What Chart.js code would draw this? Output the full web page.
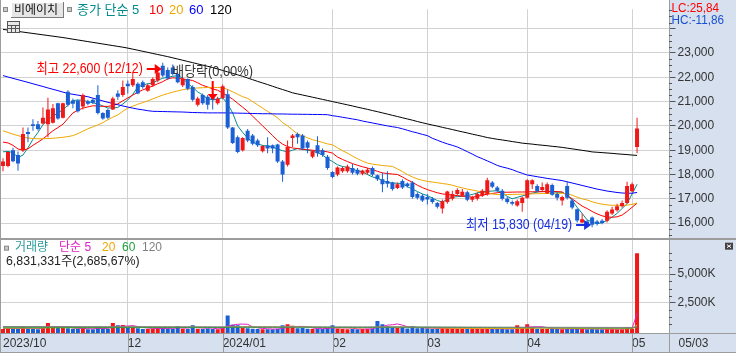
<!DOCTYPE html>
<html>
<head>
<meta charset="utf-8">
<script src="https://cdn.jsdelivr.net/npm/chart.js"></script>
<style>
html,body{margin:0;padding:0;background:#fff;overflow:hidden;}
#wrap{position:relative;width:736px;height:353px;}
canvas{display:block;}
</style>
</head>
<body>
<div id="wrap"><canvas id="c" width="736" height="353"></canvas></div>
<script>
// ---------------- data ----------------
const stockName = '비에이치';
const dates = [
'2023/10/27','2023/10/30','2023/10/31',
'2023/11/01','2023/11/02','2023/11/03','2023/11/06','2023/11/07','2023/11/08','2023/11/09','2023/11/10','2023/11/13','2023/11/14','2023/11/15','2023/11/16','2023/11/17','2023/11/20','2023/11/21','2023/11/22','2023/11/23','2023/11/24','2023/11/27','2023/11/28','2023/11/29','2023/11/30',
'2023/12/01','2023/12/04','2023/12/05','2023/12/06','2023/12/07','2023/12/08','2023/12/11','2023/12/12','2023/12/13','2023/12/14','2023/12/15','2023/12/18','2023/12/19','2023/12/20','2023/12/21','2023/12/22','2023/12/26','2023/12/27','2023/12/28',
'2024/01/02','2024/01/03','2024/01/04','2024/01/05','2024/01/08','2024/01/09','2024/01/10','2024/01/11','2024/01/12','2024/01/15','2024/01/16','2024/01/17','2024/01/18','2024/01/19','2024/01/22','2024/01/23','2024/01/24','2024/01/25','2024/01/26','2024/01/29','2024/01/30','2024/01/31',
'2024/02/01','2024/02/02','2024/02/05','2024/02/06','2024/02/07','2024/02/08','2024/02/13','2024/02/14','2024/02/15','2024/02/16','2024/02/19','2024/02/20','2024/02/21','2024/02/22','2024/02/23','2024/02/26','2024/02/27','2024/02/28','2024/02/29',
'2024/03/04','2024/03/05','2024/03/06','2024/03/07','2024/03/08','2024/03/11','2024/03/12','2024/03/13','2024/03/14','2024/03/15','2024/03/18','2024/03/19','2024/03/20','2024/03/21','2024/03/22','2024/03/25','2024/03/26','2024/03/27','2024/03/28','2024/03/29',
'2024/04/01','2024/04/02','2024/04/03','2024/04/04','2024/04/05','2024/04/08','2024/04/09','2024/04/11','2024/04/12','2024/04/15','2024/04/16','2024/04/17','2024/04/18','2024/04/19','2024/04/22','2024/04/23','2024/04/24','2024/04/25','2024/04/26','2024/04/29','2024/04/30',
'2024/05/02','2024/05/03'];

const openP = [
18350,18350,19000,18800,19000,19750,20070,20070,20100,20070,
20130,20930,20330,21400,21040,21040,20800,21000,21070,21270,
20530,20650,20670,21330,21270,21730,21670,21730,21800,21450,
21670,21870,22470,22300,22400,22130,21670,21930,21600,20870,
21270,21200,21150,20930,21150,21300,19930,19530,19000,19800,
19600,19400,18960,19200,19200,19230,18530,18400,19500,19670,
19600,19330,18730,19200,19000,18730,18100,18000,18130,18130,
18270,18200,18030,18070,18270,17970,17800,17730,17670,17440,
17730,17630,17670,17200,17130,17070,17000,16830,16600,16870,
17000,17200,17130,17270,16960,17000,17130,17200,17670,17470,
17330,17000,16870,16730,16830,17040,17600,17530,17360,17230,
17570,17200,16930,17530,16930,16570,16030,16070,16230,16070,
16100,16100,16400,16530,16690,16830,17310,19130];
const highP = [
18670,18950,19100,18950,19930,19930,20270,20200,20760,21160,
20900,20950,20950,21470,21130,21070,21330,21070,21130,21670,
20560,20700,21200,21470,21870,21870,22200,21800,21870,21730,
22000,22330,22600,22400,22530,22200,22000,21950,21670,21200,
21330,21270,21330,21200,21700,21500,19950,19600,19530,19870,
19670,19470,19200,19530,19230,19270,18600,19400,19670,19730,
19670,19400,19000,19570,19070,18800,18130,18330,18330,18400,
18430,18270,18200,18270,18330,18000,18070,18130,17700,17670,
17800,17670,17730,17270,17200,17200,17070,16870,16970,17330,
17330,17430,17400,17330,17130,17270,17400,17870,17730,17530,
17400,17070,16930,16970,17100,17800,17800,17600,17670,17670,
17630,17270,17130,17730,17000,16600,16400,16130,16270,16130,
16170,16530,16670,16800,16930,17700,17670,20330];
const lowP = [
18130,18300,18500,18150,18930,19330,19800,19800,20060,19530,
20100,20250,20300,20800,20730,20550,20670,20850,20900,20470,
20250,20270,20650,21070,21200,21330,21600,21300,21530,21400,
21600,21800,22000,21900,22070,21750,21600,21470,21000,20800,
20870,20670,20670,20870,21100,19870,19250,18870,18950,19330,
19200,19130,18900,18870,18870,18470,17700,18330,19130,19270,
19000,18870,18670,18730,18730,18200,17850,17930,18070,18070,
18000,17970,17970,18000,17930,17730,17270,17470,17330,17400,
17400,17470,17000,16970,16870,16770,16800,16600,16400,16800,
16930,17130,17070,16900,16870,16930,17070,17130,17430,17270,
16930,16800,16730,16670,16470,17000,17400,17270,17270,17200,
17130,16930,16730,16970,16570,16030,16000,15930,15830,15900,
15950,16030,16330,16470,16630,16800,17270,18870];
const closeP = [
18530,18930,18550,18450,19670,19670,20000,19870,20330,20670,
20730,20300,20930,20870,20910,20600,21270,20910,20950,20530,
20300,20330,21130,21200,21600,21630,21930,21330,21600,21670,
21930,22200,22070,21950,22130,21800,21930,21530,21070,21130,
20930,20870,21070,21130,21630,19930,19300,18930,19500,19400,
19270,19200,19170,19070,19070,18530,18000,19130,19600,19530,
19070,19100,18960,18870,18800,18270,17900,18290,18270,18330,
18070,18030,18160,18200,18000,17800,17600,17620,17400,17600,
17470,17530,17070,17040,16930,16970,16870,16670,16900,17300,
17200,17360,17290,16960,17070,17200,17330,17760,17500,17330,
17000,16870,16800,16900,17040,17760,17760,17310,17490,17600,
17170,17040,17070,17040,16640,16110,16160,16000,15930,15970,
16000,16470,16560,16690,16830,17530,17600,19890];

// moving averages
const ma5 = [
18933,18950,18900,18700,18800,19100,19450,19730,20050,20250,
20400,20530,20667,20850,21040,21067,21050,21000,20950,20900,
20820,20733,20740,20760,20900,21067,21300,21600,21680,21733,
21760,21880,21960,22000,22040,22067,21960,21750,21580,21400,
21267,21120,21067,21100,21160,20900,20533,20000,19733,19500,
19333,19250,19200,19160,19133,19050,18980,18933,19000,19067,
19030,19000,18960,18900,18800,18650,18533,18400,18330,18293,
18220,18150,18107,18000,17900,17850,17750,17667,17650,17640,
17627,17500,17400,17300,17200,17133,17030,16930,16867,16980,
17067,17090,17110,17133,17180,17240,17290,17307,17320,17333,
17250,17100,17000,17060,17120,17173,17230,17280,17307,17300,
17290,17270,17267,17150,16933,16650,16400,16133,16050,15973,
16020,16107,16250,16400,16600,16800,17200,17600];
const ma10 = [
19333,19300,19200,19050,19000,19060,19200,19330,19467,19630,
19800,19930,20067,20300,20533,20640,20733,20780,20827,20815,
20805,20800,20840,20907,21030,21150,21267,21380,21480,21560,
21640,21733,21820,21933,21980,21960,21933,21900,21867,21770,
21667,21600,21520,21467,21350,21230,21100,20930,20770,20600,
20400,20200,20000,19800,19600,19400,19250,19150,19090,19067,
19040,19020,19000,18980,18960,18933,18880,18720,18620,18530,
18450,18380,18320,18267,18200,18130,18067,18040,18020,18000,
17900,17780,17680,17560,17460,17380,17310,17250,17200,17180,
17150,17133,17110,17090,17067,17100,17150,17190,17220,17250,
17270,17270,17275,17280,17280,17285,17290,17290,17295,17300,
17300,17300,17280,17150,17000,16850,16700,16600,16480,16380,
16300,16250,16240,16260,16330,16480,16650,16820];
const ma20 = [
19800,19730,19660,19600,19540,19500,19480,19470,19470,19480,
19490,19510,19530,19560,19600,19680,19780,19880,19960,20040,
20133,20250,20360,20450,20600,20733,20810,20890,20960,21030,
21110,21190,21267,21330,21390,21440,21490,21520,21540,21560,
21570,21580,21580,21580,21570,21500,21400,21300,21200,21133,
21000,20870,20730,20600,20470,20330,20133,20000,19830,19667,
19590,19510,19430,19380,19320,19260,19220,19100,18980,18880,
18760,18650,18550,18470,18427,18400,18370,18350,18333,18230,
18120,18000,17900,17820,17760,17720,17690,17660,17630,17600,
17560,17500,17450,17400,17360,17320,17280,17240,17200,17173,
17173,17175,17180,17185,17190,17200,17205,17210,17215,17220,
17225,17227,17227,17200,17150,17067,17000,16950,16880,16820,
16780,16750,16733,16733,16733,16740,16770,16830];
const ma60 = [
22067,22010,21955,21900,21845,21790,21733,21675,21620,21560,
21505,21450,21390,21333,21300,21265,21235,21200,21140,21085,
21025,20970,20920,20870,20820,20773,20730,20690,20660,20625,
20600,20595,20590,20585,20580,20575,20570,20560,20550,20545,
20540,20535,20535,20535,20535,20535,20530,20525,20520,20515,
20510,20505,20500,20500,20495,20490,20490,20485,20480,20480,
20475,20475,20470,20470,20465,20460,20420,20390,20355,20320,
20285,20250,20200,20160,20120,20080,20040,20000,19965,19933,
19880,19820,19760,19710,19650,19600,19490,19410,19330,19260,
19200,19133,19040,18940,18840,18733,18650,18560,18470,18373,
18310,18260,18200,18120,18050,17980,17945,17910,17875,17840,
17810,17780,17750,17700,17650,17600,17550,17500,17450,17400,
17360,17320,17290,17260,17240,17230,17230,17260];
const ma120 = [
23970,23942,23914,23886,23858,23830,23802,23774,23746,23718,
23690,23662,23634,23600,23567,23534,23501,23468,23435,23402,
23369,23336,23303,23270,23237,23200,23156,23112,23068,23024,
22980,22936,22892,22848,22800,22750,22700,22650,22600,22550,
22500,22450,22400,22340,22280,22220,22160,22100,22040,21970,
21900,21830,21765,21700,21630,21560,21495,21430,21360,21315,
21270,21225,21180,21135,21090,21045,21000,20955,20910,20865,
20820,20770,20725,20680,20630,20585,20535,20485,20435,20385,
20335,20285,20235,20180,20130,20080,20035,19990,19940,19895,
19850,19800,19755,19710,19660,19615,19570,19520,19485,19450,
19420,19390,19355,19325,19290,19270,19250,19225,19205,19185,
19160,19140,19115,19085,19055,19025,18995,18965,18930,18915,
18900,18885,18870,18850,18835,18820,18800,18785];

// volume in thousands of shares
const volumeK = [
220,300,250,230,380,260,240,200,320,750,
360,300,340,280,220,250,300,200,210,420,
260,230,740,550,560,300,420,290,220,230,
260,330,300,260,240,470,250,230,550,240,
220,260,230,210,300,1400,600,550,300,290,
250,230,200,210,200,250,550,640,500,280,
300,250,220,240,220,300,550,260,220,210,
230,200,230,240,260,920,640,470,350,300,
400,260,470,280,300,290,250,270,300,320,
280,250,260,240,230,240,230,260,220,230,
240,210,200,550,300,640,380,250,240,230,
250,220,210,220,230,260,220,210,230,200,
210,230,220,200,210,400,245.231,6831.331];
const vma5 = [
260,270,270,280,276,290,290,270,280,390,
400,400,410,420,300,280,280,250,240,270,
270,270,370,440,470,480,520,430,360,300,
290,250,270,280,280,320,310,300,350,350,
300,300,300,240,250,480,560,630,650,630,
400,320,270,240,220,220,280,370,430,440,
450,400,310,260,250,270,310,320,310,310,
290,230,220,220,230,370,430,560,590,660,
560,420,390,360,340,320,300,280,280,290,
280,280,280,270,260,250,240,240,240,240,
240,230,230,290,300,380,410,420,420,340,
250,240,230,230,230,230,230,230,230,230,
220,220,220,210,210,250,260,1580];
const vma20 = [
300,300,305,305,310,310,310,315,320,330,
335,335,340,340,340,340,345,345,345,350,
350,350,360,370,375,380,385,385,385,385,
380,380,380,375,375,370,370,370,370,365,
360,360,355,350,345,400,410,420,420,420,
420,415,410,405,400,390,400,405,410,410,
400,390,380,370,360,350,345,340,335,330,
325,320,320,350,365,380,390,395,400,400,
395,385,370,360,345,330,320,310,300,295,
290,285,280,280,275,275,270,270,265,265,
260,260,260,260,280,285,300,300,300,295,
290,285,280,275,270,265,260,255,250,250,
245,245,240,240,240,250,250,570];
const vma60 = [
330,330,330,331,331,332,332,333,333,334,
334,335,335,336,336,337,337,338,338,339,
340,340,341,341,342,342,343,343,344,344,
345,345,345,346,346,346,347,347,347,348,
348,348,349,349,350,352,354,356,358,360,
361,362,363,364,365,366,367,368,369,370,
370,370,369,368,367,366,365,364,363,362,
361,360,360,362,364,366,368,370,372,374,
375,375,374,373,372,370,368,366,364,362,
360,358,356,354,352,350,348,346,344,342,
340,338,336,334,333,332,331,330,328,326,
324,322,320,318,316,314,312,310,308,306,
305,304,303,302,301,300,300,410];
const vma120 = [
440,440,439,439,438,438,437,437,436,436,
435,435,434,434,433,433,432,432,431,431,
430,430,429,429,428,428,427,427,426,426,
425,425,424,424,423,423,422,422,421,421,
420,420,419,419,418,418,418,418,417,417,
416,416,415,415,414,414,413,413,412,412,
411,411,410,410,409,409,408,408,407,407,
406,406,405,405,404,404,403,403,402,402,
401,401,400,399,398,397,396,395,394,393,
392,391,390,389,388,387,386,385,384,383,
382,381,380,379,378,377,376,375,374,373,
372,371,370,369,368,367,366,365,364,363,
362,361,360,359,358,357,356,411];

const priceMaLabels = ['종가 단순 5','10','20','60','120'];
const volMaLabels = ['단순 5','20','60','120'];
const priceTicks = [16000,17000,18000,19000,20000,21000,22000,23000,24000];
const volTicksK = [2500, 5000];
const lcText = 'LC:25,84', hcText = 'HC:-11,86';
const exDivDate = '2023/12/27', exDivText = '배당락(0,00%)';

// ---------------- styling ----------------
const UP = '#f01818', DN = '#1a5fd4';
const GRID = '#d2d2d2', PANEL = '#d6e0ee', BORDER = '#9c9c9c';
const FONT = "'Liberation Sans Narrow','Liberation Sans','Noto Sans CJK KR',sans-serif";
const PRICE_MA_COLORS = ['#008c8c','#ff0000','#f0a800','#0000ff','#000000'];
const VOL_MA_COLORS = ['#e020c0','#f0a800','#20a040','#808080'];
const PAD = 6;

const labels = dates.concat(Array(PAD).fill(''));
const candleColor = closeP.map((c, i) => c >= openP[i] ? UP : DN);
const tickText = labels.map((d, i) => {
  if (!d) return '';
  const [y, m] = d.split('/');
  if (i === 0) return y + '/' + m;
  const [py, pm] = dates[i - 1].split('/');
  if (m === pm) return '';
  if (i < 10) return '';
  return y !== py ? y + '/' + m : m;
});
const fmt = v => Math.round(v).toLocaleString('en-US');

function lineDs(data, color, axis, order) {
  return {type: 'line', data, borderColor: color, borderWidth: 1, pointRadius: 0,
          fill: false, tension: 0, yAxisID: axis, order};
}

const deco = {
  id: 'deco',
  beforeDraw(ch) {
    const c = ch.ctx, a = ch.chartArea;
    c.save();
    c.fillStyle = '#fff'; c.fillRect(0, 0, ch.width, ch.height);
    c.fillStyle = PANEL;
    c.fillRect(a.right, 0, ch.width - a.right, ch.height);
    c.fillRect(0, a.bottom, ch.width, ch.height - a.bottom);
    c.restore();
  },
  afterDraw(ch) {
    const c = ch.ctx, a = ch.chartArea, X = ch.scales.x, Y = ch.scales.y, V = ch.scales.yv;
    const W = ch.width, H = ch.height;
    c.save();
    function txt(s, x, y, color, size, align, sx) {
      c.save();
      c.font = size + 'px ' + FONT; c.fillStyle = color;
      c.textAlign = align || 'left'; c.textBaseline = 'middle';
      c.translate(x, y); c.scale(sx || 1, 1);
      c.fillText(s, 0, 0);
      c.restore();
    }
    // borders
    c.fillStyle = BORDER;
    c.fillRect(Math.floor(a.right), 0, 1, H);
    c.fillRect(0, 0, 1, H);
    c.fillRect(0, Math.round(Y.bottom) - 1, W, 2);
    c.fillRect(0, Math.round(a.bottom), W, 1);
    c.fillRect(0, H - 1, W, 1);
    // x strip separators
    tickText.forEach((t, i) => {
      if (t && i > 0) {
        const px = Math.round(X.getPixelForValue(i));
        c.fillRect(px, Math.round(a.bottom), 1, H - a.bottom);
      }
    });
    // minor ticks
    c.fillStyle = '#555';
    for (let v = 15500; v <= 24750; v += 250) {
      if (v % 1000 === 0) continue;
      const py = Math.round(Y.getPixelForValue(v));
      c.fillRect(Math.floor(a.right), py, 3, 1);
    }
    for (let k = 1; k * 625 < V.max; k++) {
      const v = k * 625;
      if (v % 2500 === 0) continue;
      const py = Math.round(V.getPixelForValue(v));
      c.fillRect(Math.floor(a.right), py, 3, 1);
    }
    // last date on the right of strip
    txt(dates[dates.length - 1].slice(5), a.right + 9, a.bottom + 10.5, '#333', 13, 'left', 0.92);
    // LC / HC
    txt(lcText, a.right + 2, 8, '#ff0000', 13, 'left', 0.9);
    txt(hcText, a.right + 2, 20, '#1a50d0', 13, 'left', 0.9);
    // header
    c.fillStyle = '#888'; c.fillRect(3, 7, 5, 5); c.fillStyle = '#c8c8c8'; c.fillRect(4, 8, 3, 3);
    c.fillStyle = '#e6e6e6'; c.fillRect(11, 2, 53, 16);
    c.fillStyle = '#fff'; c.fillRect(11, 2, 53, 1); c.fillRect(11, 2, 1, 16);
    c.fillStyle = '#7a7a7a'; c.fillRect(11, 17, 53, 1); c.fillRect(63, 2, 1, 16);
    txt(stockName, 14, 10.5, '#111', 12);
    c.fillStyle = '#888'; c.fillRect(67, 7, 5, 5); c.fillStyle = '#c8c8c8'; c.fillRect(68, 8, 3, 3);
    const hx = [77, 149, 169, 189, 210];
    priceMaLabels.forEach((s, k) => txt(s, hx[k], 10.5, PRICE_MA_COLORS[k], 13));
    // table icon
    c.fillStyle = '#e8e8e8'; c.fillRect(7, 21, 12, 11);
    c.strokeStyle = '#555'; c.lineWidth = 1;
    c.strokeRect(7.5, 21.5, 12, 11);
    c.beginPath(); c.moveTo(8, 25.5); c.lineTo(19, 25.5); c.moveTo(8, 28.5); c.lineTo(19, 28.5);
    c.moveTo(11.5, 25); c.lineTo(11.5, 32); c.moveTo(15.5, 25); c.lineTo(15.5, 32); c.stroke();
    // volume legend
    const vy = V.top + 9.5;
    c.fillStyle = '#888'; c.fillRect(4, vy - 2.5, 5, 5); c.fillStyle = '#c8c8c8'; c.fillRect(5, vy - 1.5, 3, 3);
    txt('거래량', 15, vy, '#2a9a9a', 12);
    const vx = [59, 102, 122, 142];
    volMaLabels.forEach((s, k) => txt(s, vx[k], vy, VOL_MA_COLORS[k], 12));
    const n = volumeK.length;
    const lastV = Math.round(volumeK[n - 1] * 1000), prevV = Math.round(volumeK[n - 2] * 1000);
    const pct = ((lastV / prevV - 1) * 100).toFixed(2).split('.');
    txt(fmt(lastV) + '주(' + fmt(+pct[0]) + ',' + pct[1] + '%)', 6, vy + 13, '#222', 13, 'left', 0.95);
    // close icon
    c.fillStyle = '#444'; c.fillRect(W - 11, V.top + 4, 8, 7);
    c.strokeStyle = '#fff'; c.beginPath();
    c.moveTo(W - 9, V.top + 6); c.lineTo(W - 5, V.top + 9); c.moveTo(W - 5, V.top + 6); c.lineTo(W - 9, V.top + 9); c.stroke();
    // annotations
    function arrowRight(tip, y, color) {
      c.fillStyle = color;
      c.fillRect(tip - 15, y - 1, 9, 2);
      c.beginPath(); c.moveTo(tip, y); c.lineTo(tip - 7, y - 5); c.lineTo(tip - 7, y + 5); c.closePath(); c.fill();
    }
    const hi = Math.max(...highP), iMax = highP.indexOf(hi);
    const lo = Math.min(...lowP), iMin = lowP.indexOf(lo);
    let cx = X.getPixelForValue(iMax), cy = Math.round(Y.getPixelForValue(hi)) + 6;
    arrowRight(cx - 1, cy, '#ff0000');
    txt('최고 ' + fmt(hi) + ' (' + dates[iMax].slice(5) + ')', cx - 20, cy, '#ff0000', 14, 'right', 0.88);
    cx = X.getPixelForValue(iMin); cy = Math.round(Y.getPixelForValue(lo)) - 2;
    arrowRight(cx - 1, cy, '#1530e0');
    txt('최저 ' + fmt(lo) + ' (' + dates[iMin].slice(5) + ')', cx - 20, cy, '#1530e0', 14, 'right', 0.88);
    const ie = dates.indexOf(exDivDate);
    cx = X.getPixelForValue(ie); const tipY = Math.round(Y.getPixelForValue(highP[ie])) + 6;
    c.fillStyle = '#ff0000';
    c.fillRect(cx - 1, tipY - 19, 2, 14);
    c.beginPath(); c.moveTo(cx, tipY); c.lineTo(cx - 5, tipY - 6); c.lineTo(cx + 5, tipY - 6); c.closePath(); c.fill();
    txt(exDivText, cx, tipY - 28, '#333', 14, 'center', 0.92);
    c.restore();
  }
};

const tickFont = {family: FONT, size: 12};
new Chart(document.getElementById('c'), {
  type: 'bar',
  data: {
    labels,
    datasets: [
      {type: 'bar', data: dates.map((d, i) => [lowP[i], highP[i]]), backgroundColor: candleColor,
       barThickness: 1, grouped: false, yAxisID: 'y', order: 2, inflateAmount: 0},
      {type: 'bar', data: dates.map((d, i) => [Math.min(openP[i], closeP[i]), Math.max(openP[i], closeP[i])]),
       backgroundColor: candleColor, barThickness: 4, minBarLength: 1, grouped: false, yAxisID: 'y', order: 1, inflateAmount: 0},
      lineDs(ma120, PRICE_MA_COLORS[4], 'y', 3),
      lineDs(ma60, PRICE_MA_COLORS[3], 'y', 3),
      lineDs(ma20, PRICE_MA_COLORS[2], 'y', 3),
      lineDs(ma10, PRICE_MA_COLORS[1], 'y', 3),
      lineDs(ma5, PRICE_MA_COLORS[0], 'y', 3),
      {type: 'bar', data: volumeK, backgroundColor: candleColor, barThickness: 4, grouped: false,
       yAxisID: 'yv', base: -127, order: 5, inflateAmount: 0},
      lineDs(vma120, VOL_MA_COLORS[3], 'yv', 0),
      lineDs(vma60, VOL_MA_COLORS[2], 'yv', 0),
      lineDs(vma20, VOL_MA_COLORS[1], 'yv', 0),
      lineDs(vma5, VOL_MA_COLORS[0], 'yv', 0)
    ]
  },
  options: {
    responsive: false, animation: false, devicePixelRatio: 1, events: [],
    layout: {padding: {left: -0.5, right: 0, top: 0, bottom: 0}},
    plugins: {legend: {display: false}, tooltip: {enabled: false}},
    scales: {
      x: {
        type: 'category', offset: true, border: {display: false},
        grid: {offset: false, drawTicks: false, lineWidth: 1,
               color: ctx => (tickText[ctx.index] && ctx.index > 0) ? GRID : 'rgba(0,0,0,0)'},
        ticks: {autoSkip: false, maxRotation: 0, minRotation: 0, align: 'start', padding: 3,
                color: '#333', font: tickFont, callback: (v, i) => tickText[i]},
        afterFit: s => { s.height = 20; }
      },
      y: {
        position: 'right', stack: 'main', stackWeight: 236, min: 15360, max: 24800,
        border: {display: false},
        grid: {color: GRID, tickColor: '#555', tickLength: 6, drawTicks: true},
        ticks: {autoSkip: false, padding: 2, color: '#333', font: tickFont,
                callback: v => v >= 24000 ? '' : fmt(v)},
        afterBuildTicks: s => { s.ticks = priceTicks.map(v => ({value: v})); },
        afterFit: s => { s.width = 66.5; }
      },
      yv: {
        position: 'right', stack: 'main', stackWeight: 97, min: -127, max: 8093,
        border: {display: false},
        grid: {color: GRID, tickColor: '#555', tickLength: 6, drawTicks: true},
        ticks: {autoSkip: false, padding: 2, color: '#333', font: tickFont, callback: v => fmt(v) + 'K'},
        afterBuildTicks: s => { s.ticks = volTicksK.map(v => ({value: v})); },
        afterFit: s => { s.width = 66.5; }
      }
    }
  },
  plugins: [deco]
});
</script>
</body>
</html>
